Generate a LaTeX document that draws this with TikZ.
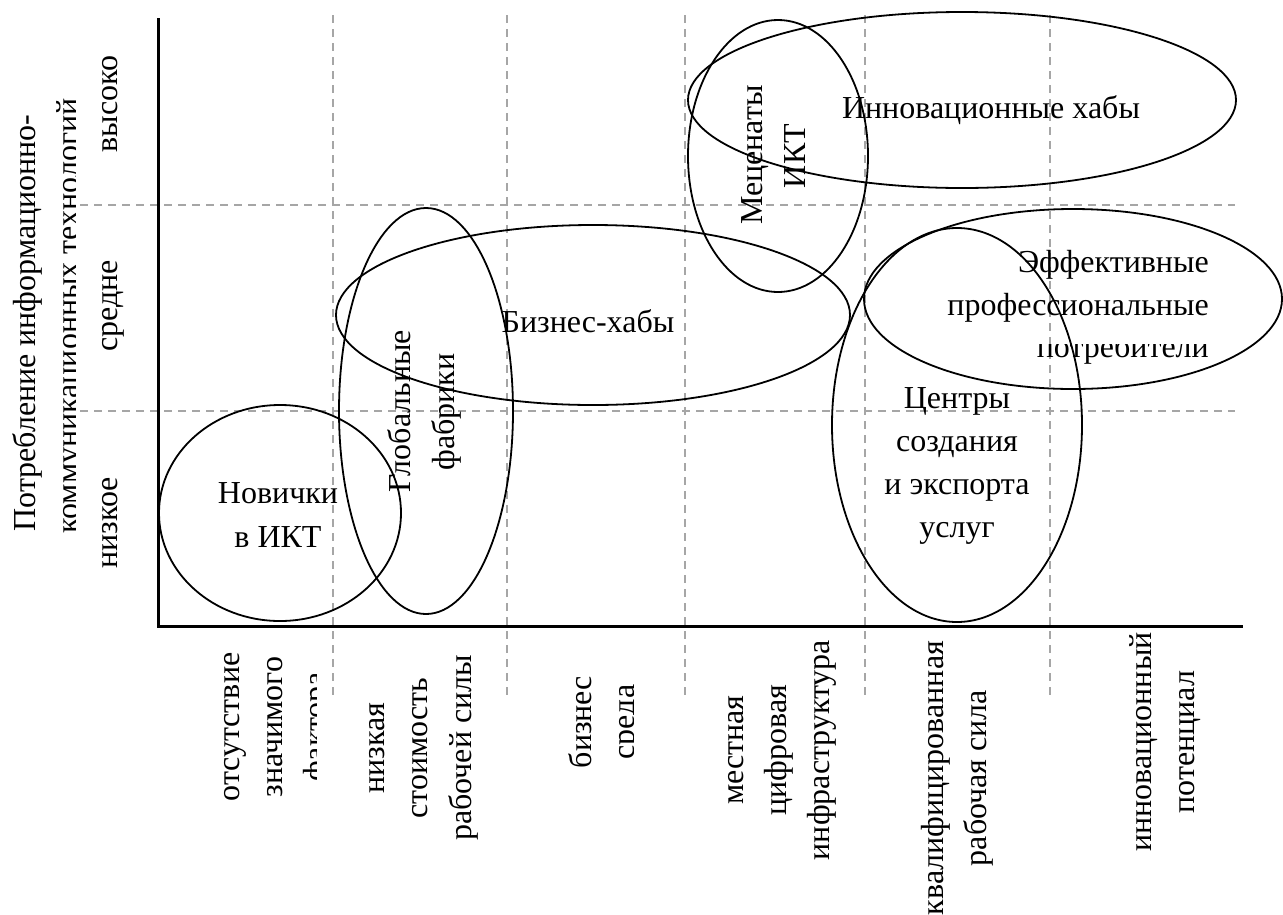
\documentclass[tikz,border=0pt]{standalone}
\usepackage{fontspec}
\setmainfont{Liberation Serif}
\usetikzlibrary{shapes.geometric}
\newcommand\mylblfont{\fontsize{32pt}{43pt}\selectfont}
\begin{document}
\begin{tikzpicture}[x=1pt,y=-1pt,
  hl/.style={inner sep=0pt, anchor=base, font=\mylblfont},
  hr/.style={hl, anchor=base east},
  vl/.style={hl, rotate=90},
  region/.style={draw=black, line width=1.8pt, ellipse, inner sep=0pt, fill=none},
  grid/.style={draw=black!35, line width=1.1pt, dash pattern=on 8pt off 6pt},
  axis/.style={draw=black, line width=3pt}]
\useasboundingbox (0,0) rectangle (1283,914);
% grid
\foreach \yy in {205,411} \draw[grid] (80,\yy) -- (1235,\yy);
\foreach \xx in {333,507,685,865,1050} \draw[grid] (\xx,15) -- (\xx,700);
% axes
\coordinate (ytop) at (158,18);
\coordinate (O) at (158,626);
\coordinate (xend) at (1243,626);
\draw[axis] (ytop) -- (O) -- (xend);
% regions
\node[region, minimum width=242pt, minimum height=216pt] (eNov) at (280,513) {};
\node[region, minimum width=174pt, minimum height=406pt] (eGlob) at (426,411) {};
\node[region, minimum width=514pt, minimum height=180pt] (eBiz) at (593,315) {};
\node[region, minimum width=180pt, minimum height=272pt] (eMec) at (778,156) {};
\node[region, minimum width=548pt, minimum height=176pt] (eInn) at (962,100) {};
\node[region, minimum width=418pt, minimum height=180pt] (eEff) at (1073,299) {};
\node[region, minimum width=250pt, minimum height=394pt] (eCen) at (957,425) {};
% region labels
\node[hl] (tNov1) at (278,503) {Новички};
\node[hl] (tNov2) at (278,547) {в ИКТ};
\node[vl] (tGlob1) at (410,411) {Глобальные};
\node[vl] (tGlob2) at (454,412) {фабрики};
\node[hl] (tBiz) at (588,332) {Бизнес-хабы};
\node[vl] (tMec1) at (762,155) {Меценаты};
\node[vl] (tMec2) at (805,156) {ИКТ};
\node[hl] (tInn) at (991,118) {Инновационные хабы};
\node[hr] (tEff1) at (1209,272) {Эффективные};
\node[hr] (tEff2) at (1209,315) {профессиональные};
\begin{scope}
\clip (900,344) rectangle (1283,400);
\node[hr] (tEff3) at (1209,357) {потребители};
\end{scope}
\node[hl] (tCen1) at (957,408) {Центры};
\node[hl] (tCen2) at (957,451) {создания};
\node[hl] (tCen3) at (957,494) {и экспорта};
\node[hl] (tCen4) at (957,537) {услуг};
% y axis labels
\node[vl] (yHi) at (117,104) {высоко};
\node[vl] (yMid) at (117,306) {средне};
\node[vl] (yLo) at (117,523) {низкое};
\node[vl] (yTitle1) at (35,323) {Потребление информационно-};
\begin{scope}
\clip (0,0) rectangle (75,914);
\node[vl] (yTitle2) at (78,316) {коммуникационных технологий};
\end{scope}
% x axis labels
\node[vl] (x1a) at (239,727) {отсутствие};
\node[vl] (x1b) at (282,727) {значимого};
\begin{scope}
\clip (250,630) rectangle (316,914);
\node[vl] (x1c) at (325,727) {фактора};
\end{scope}
\node[vl] (x2a) at (384,748) {низкая};
\node[vl] (x2b) at (427,748) {стоимость};
\node[vl] (x2c) at (471,748) {рабочей силы};
\node[vl] (x3a) at (591,722) {бизнес};
\begin{scope}
\clip (600,630) rectangle (633,914);
\node[vl] (x3b) at (634,722) {среда};
\end{scope}
\node[vl] (x4a) at (743,750) {местная};
\node[vl] (x4b) at (786,750) {цифровая};
\node[vl] (x4c) at (829,750) {инфраструктура};
\node[vl] (x5a) at (943,778) {квалифицированная};
\node[vl] (x5b) at (986,778) {рабочая сила};
\node[vl] (x6a) at (1151,742) {инновационный};
\node[vl] (x6b) at (1194,742) {потенциал};
\end{tikzpicture}
\end{document}
